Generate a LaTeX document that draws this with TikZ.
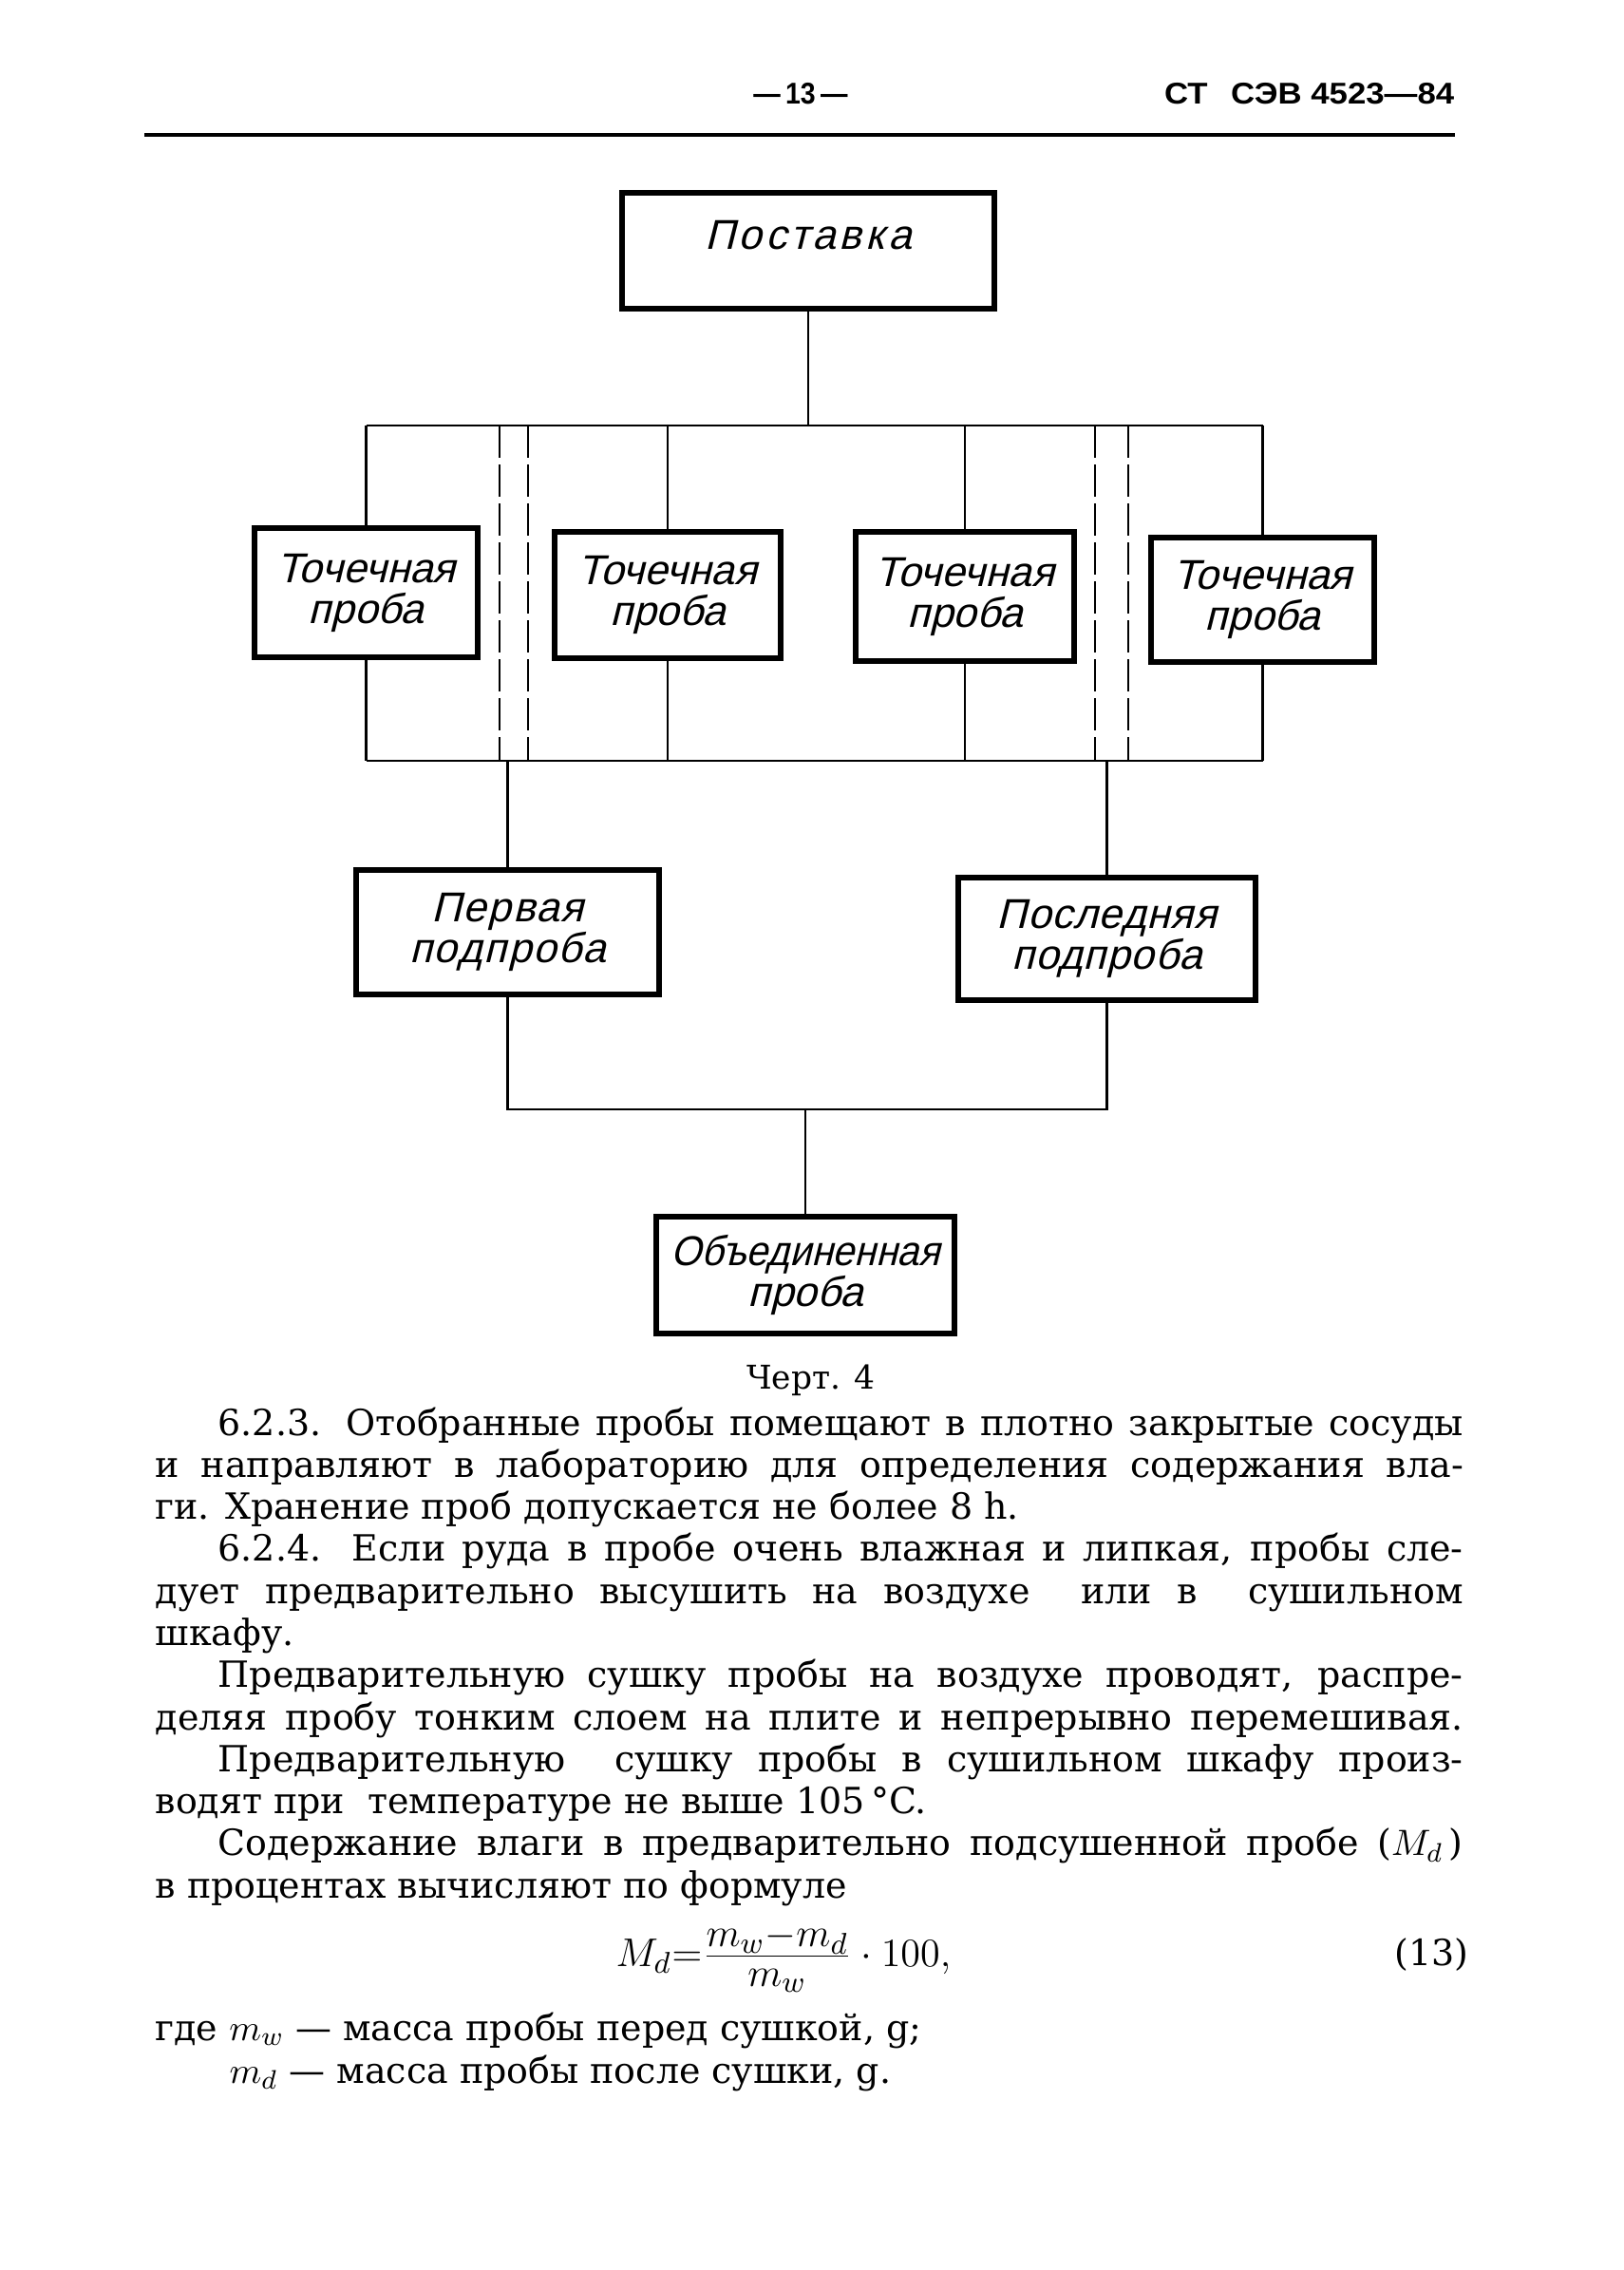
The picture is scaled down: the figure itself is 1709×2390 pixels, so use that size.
\documentclass[tikz,border=0pt]{standalone}
\usepackage{fontspec}
\setmainfont{DejaVu Serif}
\newfontfamily\drawfont[FakeSlant=0.25]{Liberation Sans}
\newfontfamily\hdfont[FakeStretch=1.1]{Liberation Sans}
\newfontfamily\pgfont[FakeStretch=0.9]{Liberation Sans}
\newcommand{\fullline}[1]{\noindent\makebox[\linewidth][s]{#1}\par}
\newcommand{\ind}{\hspace*{6.6mm}}
\begin{document}
\begin{tikzpicture}[x=0.1mm,y=-0.1mm,
  box/.style={draw,line width=1.5pt,inner sep=0pt,align=center,
    font=\drawfont\fontsize{12.5}{12.2}\selectfont},
  conn/.style={line width=0.8pt},
  dconn/.style={line width=0.8pt,dash pattern=on 3.4mm off 0.7mm},
  txt/.style={inner sep=0pt}]
\path[use as bounding box,fill=white] (0,0) rectangle (1709,2390);

% header
\node[txt,font=\pgfont\bfseries\fontsize{9}{10}\selectfont] (pg) at (843,99) {—\,13\,—};
\node[txt,anchor=east,font=\hdfont\bfseries\fontsize{9}{10}\selectfont] (std) at (1532,99) {СТ\hspace{1.5mm} СЭВ 4523—84};
\coordinate (hl) at (152,142);
\coordinate (hr) at (1532,142);
\draw[line width=1.1pt] (hl) -- (hr);

% boxes
\node[box,minimum width=39.2mm,minimum height=12.2mm] (post) at (851,264) {\raisebox{1.6mm}[\height][\depth]{\addfontfeature{LetterSpace=9}Поставка}};
\node[box,minimum width=23.5mm,minimum height=13.6mm] (b1) at (385.5,624) {Точечная\\проба};
\node[box,minimum width=23.8mm,minimum height=13.3mm] (b2) at (703,626.5) {Точечная\\проба};
\node[box,minimum width=23.0mm,minimum height=13.6mm] (b3) at (1016,628) {Точечная\\проба};
\node[box,minimum width=23.5mm,minimum height=13.1mm] (b4) at (1329.5,631.5) {Точечная\\проба};
\node[box,minimum width=31.9mm,minimum height=13.1mm] (p1) at (534.5,981.5) {\addfontfeature{LetterSpace=4}Первая\\\addfontfeature{LetterSpace=4}подпроба};
\node[box,minimum width=31.3mm,minimum height=12.9mm] (p2) at (1165.5,988.5) {\addfontfeature{LetterSpace=2}Последняя\\\addfontfeature{LetterSpace=2}подпроба};
\node[box,minimum width=31.4mm,minimum height=12.3mm] (ob) at (848,1342.5) {\addfontfeature{FakeStretch=0.93}Объединенная\\проба};

% buses
\coordinate (busA) at (850,448);
\coordinate (busB) at (850,801);
\coordinate (busC) at (845,1168);

\draw[conn] (post.south) -- (post.south |- busA);
\draw[conn] (b1.north |- busA) -- (b4.north |- busA);
\draw[conn] (b1.south |- busB) -- (b4.south |- busB);
\foreach \b in {b1,b2,b3,b4}{
  \draw[conn] (\b.north |- busA) -- (\b.north);
  \draw[conn] (\b.south) -- (\b.south |- busB);
}
% dashed separators
\coordinate (d1t) at (526,448); \coordinate (d1b) at (526,801);
\coordinate (d2t) at (556,448); \coordinate (d2b) at (556,801);
\coordinate (d3t) at (1153,448); \coordinate (d3b) at (1153,801);
\coordinate (d4t) at (1188,448); \coordinate (d4b) at (1188,801);
\draw[dconn] (d1t) -- (d1b);
\draw[dconn] (d2t) -- (d2b);
\draw[dconn] (d3t) -- (d3b);
\draw[dconn] (d4t) -- (d4b);

\draw[conn] (p1.north |- busB) -- (p1.north);
\draw[conn] (p2.north |- busB) -- (p2.north);
\draw[conn] (p1.south) -- (p1.south |- busC) -- (p2.south |- busC) -- (p2.south);
\draw[conn] (ob.north |- busC) -- (ob.north);

% caption
\node[txt,anchor=base,font=\fontsize{9.8}{11}\selectfont] (cap) at (854,1462) {Черт. 4};

% body text
\node[txt,anchor=base west] (body) at (163,1511) {\parbox[t]{137.7mm}{\fontsize{10.8}{12.6}\selectfont
\fullline{\ind 6.2.3. Отобранные пробы помещают в плотно закрытые сосуды}
\fullline{и направляют в лабораторию для определения содержания вла-}
\noindent ги. Хранение проб допускается не более 8 h.\par
\fullline{\ind 6.2.4. Если руда в пробе очень влажная и липкая, пробы сле-}
\fullline{дует предварительно высушить на воздухе \ или в \ сушильном}
\noindent шкафу.\par
\fullline{\ind Предварительную сушку пробы на воздухе проводят, распре-}
\fullline{деляя пробу тонким слоем на плите и непрерывно перемешивая.}
\fullline{\ind Предварительную \ сушку пробы в сушильном шкафу произ-}
\noindent водят при \ температуре не выше 105\,°C.\par
\fullline{\ind Содержание влаги в предварительно подсушенной пробе ($M_d$\,)}
\noindent в процентах вычисляют по формуле\par}};

% formula
\node[txt,anchor=base west,font=\fontsize{12.5}{14}\selectfont] (formula) at (648,2070) {$M_d{=}\frac{\raisebox{0.35mm}{$\textstyle m_w{-}m_d$}}{\raisebox{-0.7mm}{$\textstyle m_w$}}\cdot 100,$};
\node[txt,anchor=east,font=\fontsize{10.8}{12.6}\selectfont] (eqno) at (1547,2058) {(13)};

\node[txt,anchor=base west,font=\fontsize{10.8}{12.6}\selectfont] (where1) at (163,2148) {где $m_w$ — масса пробы перед сушкой, g;};
\node[txt,anchor=base west,font=\fontsize{10.8}{12.6}\selectfont] (where2) at (241,2193) {$m_d$ — масса пробы после сушки, g.};
\end{tikzpicture}
\end{document}
